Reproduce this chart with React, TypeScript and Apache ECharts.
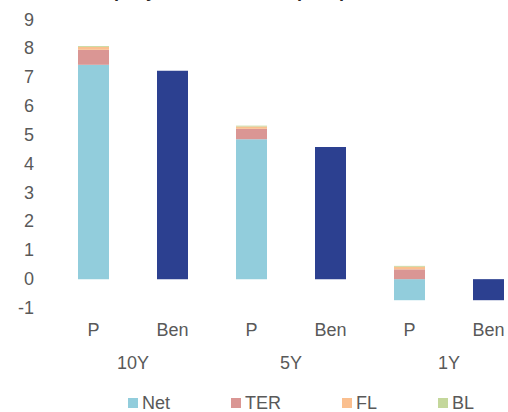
import React, { useEffect, useRef } from "react";
import * as echarts from "echarts";

const bars = ["P", "Ben", "P", "Ben", "P", "Ben"];
const periods = ["10Y", "5Y", "1Y"];
const yTicks = [-1, 9];
const netP = [7.43, 4.85, -0.73];
const terP = [0.52, 0.36, 0.34];
const flP = [0.1, 0.08, 0.09];
const blP = [0.03, 0.03, 0.03];
const ben = [7.22, 4.58, -0.73];
const titleText = "Company overall costs impact per annum";

const FONT = "Liberation Sans, Arial, sans-serif";
const GREY = "#595959";

const onP = (arr: number[]) => arr.flatMap((v) => [v, null]);
const onBen = (arr: number[]) => arr.flatMap((v) => [null, v]);

export default function App() {
  const ref = useRef<HTMLDivElement>(null);
  useEffect(() => {
    if (!ref.current) return;
    const chart = echarts.init(ref.current, undefined, { renderer: "svg" });
    const mk = (name: string, data: (number | null)[], color: string) => ({
      name,
      type: "bar",
      stack: "s",
      xAxisIndex: 0,
      barWidth: 31,
      data,
      itemStyle: { color },
    });
    chart.setOption({
      animation: false,
      textStyle: { fontFamily: FONT },
      graphic: [
        {
          type: "text",
          x: 74,
          y: -9.5,
          style: {
            text: titleText,
            font: `bold 18px ${FONT}`,
            fill: "#262626",
            verticalAlign: "middle",
          },
        },
      ],
      legend: {
        data: ["Net", "TER", "FL", "BL"],
        left: 123,
        top: 389,
        icon: "rect",
        itemWidth: 10,
        itemHeight: 10,
        itemGap: 61,
        textStyle: { fontSize: 18, color: GREY, fontFamily: FONT, padding: [0, 0, 0, -1] },
      },
      grid: { left: 54, top: 19.5, width: 474, height: 288.5, outerBoundsMode: "none", containLabel: false },
      xAxis: [
        {
          type: "category",
          data: bars,
          axisLine: { show: false, onZero: false },
          axisTick: { show: false },
          axisLabel: { fontSize: 18, color: GREY, margin: 13, fontFamily: FONT },
        },
        {
          type: "category",
          data: periods,
          position: "bottom",
          offset: 33,
          axisLine: { show: false, onZero: false },
          axisTick: { show: false },
          axisLabel: { fontSize: 18, color: GREY, margin: 13, fontFamily: FONT },
        },
      ],
      yAxis: {
        type: "value",
        min: yTicks[0],
        max: yTicks[1],
        interval: 1,
        axisLine: { show: false },
        axisTick: { show: false },
        splitLine: { show: false },
        axisLabel: { fontSize: 18, color: GREY, margin: 20, fontFamily: FONT },
      },
      series: [
        mk("Net", onP(netP), "#92CDDC"),
        mk("TER", onP(terP), "#DA9694"),
        mk("FL", onP(flP), "#FABF8F"),
        mk("BL", onP(blP), "#C4D79B"),
        mk("Ben", onBen(ben), "#2C4090"),
      ],
    });
    return () => chart.dispose();
  }, []);
  return <div ref={ref} style={{ width: 508, height: 412, position: "absolute", left: 0, top: 0 }} />;
}
